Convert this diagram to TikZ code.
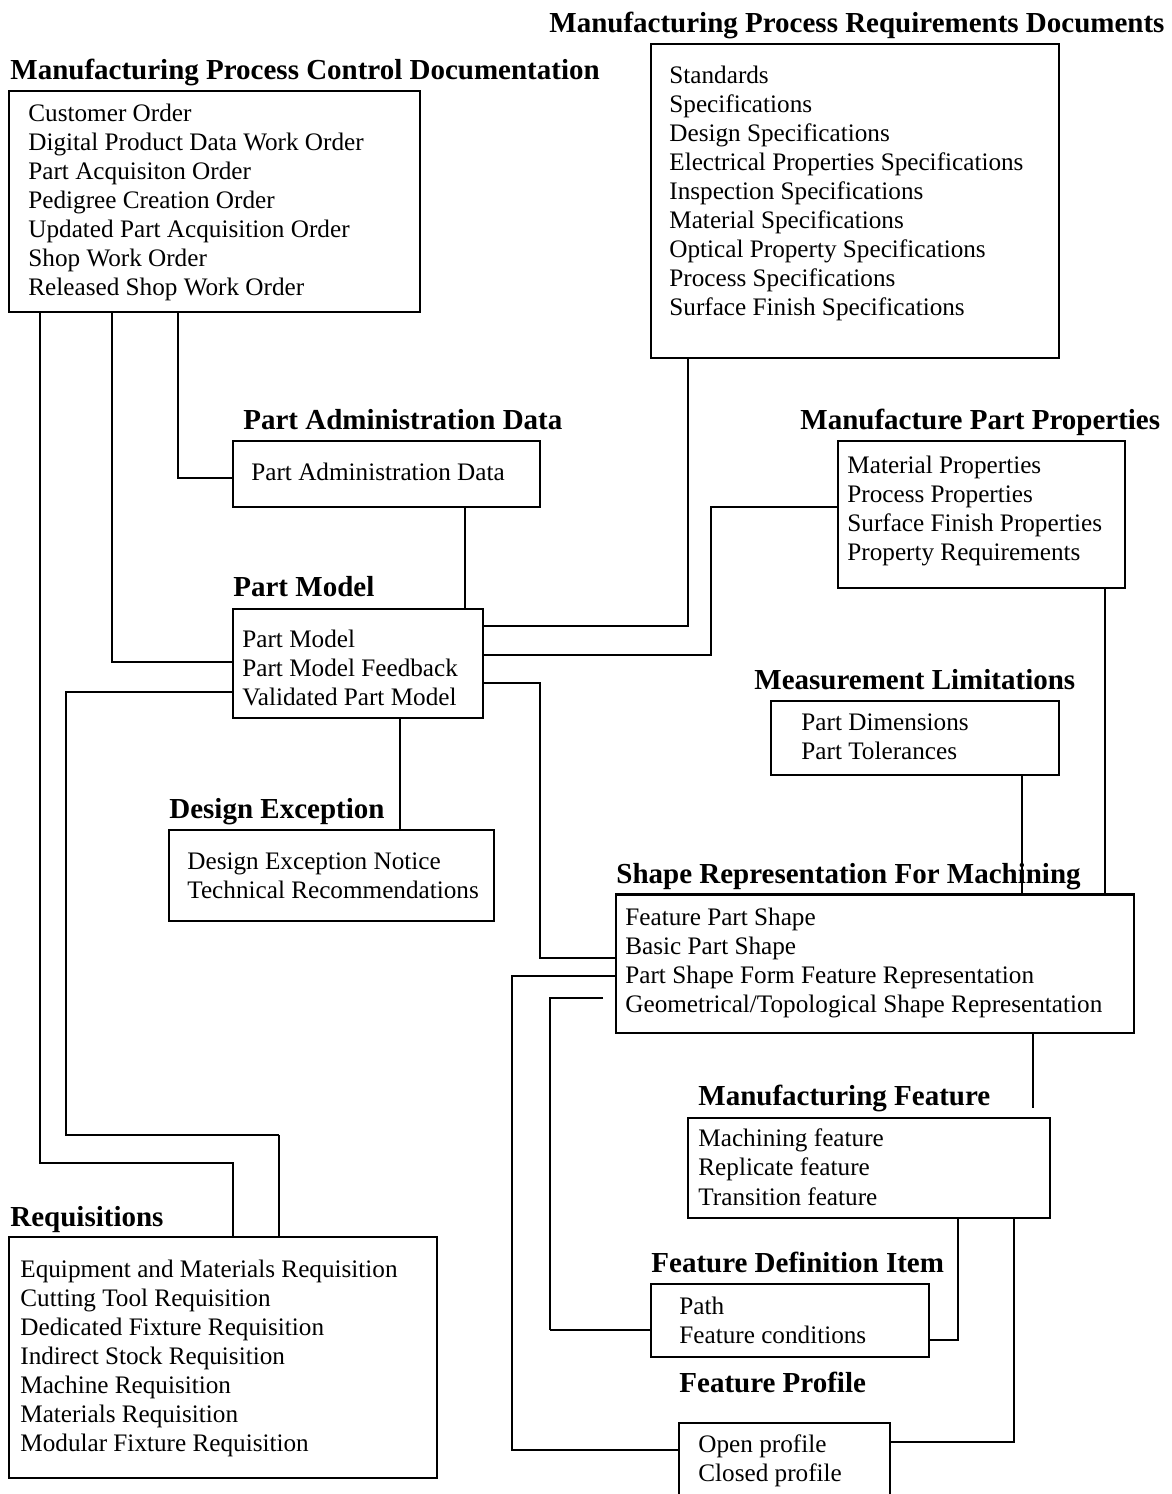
\documentclass[tikz,border=0pt]{standalone}
\usepackage{fontspec}
\setmainfont{Liberation Serif}
\usetikzlibrary{fit}
\begin{document}
\begin{tikzpicture}[x=0.5pt,y=-0.5pt,
  box/.style={draw, inner sep=0pt, line width=0.6pt},
  item/.style={anchor=base west, inner sep=0pt, font=\fontsize{12.6}{15}\selectfont},
  ttl/.style={anchor=base west, inner sep=0pt, font=\fontsize{14.5}{17}\selectfont\bfseries},
  conn/.style={line width=0.6pt},
  heavy/.style={line width=1.2pt}]
\clip (0,0) rectangle (1172,1494);
\fill[white] (0,0) rectangle (1172,1494);

% boxes
\node[box, fit={(9,91) (420,312)}] (mpcd) {};
\node[box, fit={(651,44) (1059,358)}] (mprd) {};
\node[box, fit={(233,441) (540,507)}] (pad) {};
\node[box, fit={(233,609) (483,718)}] (pm) {};
\node[box, fit={(838,441) (1125,588)}] (mpp) {};
\node[box, fit={(771,701) (1059,775)}] (ml) {};
\node[box, fit={(169,830) (494,921)}] (de) {};
\node[box, fit={(616,895) (1134,1033)}] (srm) {};
\node[box, fit={(688,1118) (1050,1218)}] (mf) {};
\node[box, fit={(651,1284) (929,1357)}] (fdi) {};
\node[box, fit={(679,1423) (890,1520)}] (fp) {};
\node[box, fit={(9,1237) (437,1478)}] (req) {};
\draw[heavy] (srm.north west) -- (srm.north east);

% connectors
\draw[conn] (mpcd.south -| 40,0) |- (233,1163) -- (req.north -| 233,0);
\draw[conn] (pm.west |- 0,692) -| (66,1135) -- (279,1135);
\draw[heavy] (279,1135) -- (req.north -| 279,0);
\draw[conn] (mpcd.south -| 112,0) |- (pm.west |- 0,662);
\draw[conn] (mpcd.south -| 178,0) |- (pad.west |- 0,478);
\draw[conn] (pad.south -| 465,0) -- (pm.north -| 465,0);
\draw[conn] (mprd.south -| 688,0) |- (pm.east |- 0,626);
\draw[conn] (mpp.west |- 0,507) -| (711,655) -- (pm.east |- 0,655);
\draw[conn] (pm.east |- 0,683) -| (540,958) -- (srm.west |- 0,958);
\draw[conn] (pm.south -| 400,0) -- (de.north -| 400,0);
\draw[conn] (mpp.south -| 1105,0) -- (srm.north -| 1105,0);
\draw[conn] (ml.south -| 1022,0) -- (srm.north -| 1022,0);
\coordinate (srmend) at (1033,1108);
\draw[conn] (srm.south -| 1033,0) -- (srmend);
\draw[conn] (srm.west |- 0,976) -| (512,1450) -- (fp.west |- 0,1450);
\coordinate (gapstart) at (603,998);
\draw[conn] (gapstart) -| (550,1330);
\draw[heavy] (550,1330) -- (fdi.west |- 0,1330);
\draw[conn] (mf.south -| 958,0) |- (fdi.east |- 0,1340);
\draw[conn] (mf.south -| 1014,0) |- (fp.east |- 0,1442);

% titles
\node[ttl] (t-mprd) at (549,32) {Manufacturing Process Requirements Documents};
\node[ttl] (t-mpcd) at (10,79) {Manufacturing Process Control Documentation};
\node[ttl] (t-pad) at (243,429) {Part Administration Data};
\node[ttl] (t-pm) at (233,596) {Part Model};
\node[ttl] (t-mpp) at (800,429) {Manufacture Part Properties};
\node[ttl] (t-ml) at (754,689) {Measurement Limitations};
\node[ttl] (t-de) at (169,818) {Design Exception};
\node[ttl] (t-srm) at (616,883) {Shape Representation For Machining};
\node[ttl] (t-mf) at (698,1105) {Manufacturing Feature};
\node[ttl] (t-fdi) at (651,1272) {Feature Definition Item};
\node[ttl] (t-fp) at (679,1392) {Feature Profile};
\node[ttl] (t-req) at (10,1226) {Requisitions};

% items
\foreach \t [count=\i from 0] in {Customer Order, Digital Product Data Work Order, Part Acquisiton Order, Pedigree Creation Order, Updated Part Acquisition Order, Shop Work Order, Released Shop Work Order}
  \node[item] (mpcd-\i) at (28,{121+29*\i}) {\t};
\foreach \t [count=\i from 0] in {Standards, Specifications, Design Specifications, Electrical Properties Specifications, Inspection Specifications, Material Specifications, Optical Property Specifications, Process Specifications, Surface Finish Specifications}
  \node[item] (mprd-\i) at (669,{83+29*\i}) {\t};
\node[item] (pad-0) at (251,480) {Part Administration Data};
\foreach \t [count=\i from 0] in {Part Model, Part Model Feedback, Validated Part Model}
  \node[item] (pm-\i) at (242,{647+29*\i}) {\t};
\foreach \t [count=\i from 0] in {Material Properties, Process Properties, Surface Finish Properties, Property Requirements}
  \node[item] (mpp-\i) at (847,{473+29*\i}) {\t};
\foreach \t [count=\i from 0] in {Part Dimensions, Part Tolerances}
  \node[item] (ml-\i) at (801,{730+29*\i}) {\t};
\foreach \t [count=\i from 0] in {Design Exception Notice, Technical Recommendations}
  \node[item] (de-\i) at (187,{869+29*\i}) {\t};
\foreach \t [count=\i from 0] in {Feature Part Shape, Basic Part Shape, Part Shape Form Feature Representation, Geometrical/Topological Shape Representation}
  \node[item] (srm-\i) at (625,{925+29*\i}) {\t};
\foreach \t [count=\i from 0] in {Machining feature, Replicate feature, Transition feature}
  \node[item] (mf-\i) at (698,{1146+29.5*\i}) {\t};
\foreach \t [count=\i from 0] in {Path, Feature conditions}
  \node[item] (fdi-\i) at (679,{1314+29*\i}) {\t};
\foreach \t [count=\i from 0] in {Open profile, Closed profile}
  \node[item] (fp-\i) at (698,{1452+29.5*\i}) {\t};
\foreach \t [count=\i from 0] in {Equipment and Materials Requisition, Cutting Tool Requisition, Dedicated Fixture Requisition, Indirect Stock Requisition, Machine Requisition, Materials Requisition, Modular Fixture Requisition}
  \node[item] (req-\i) at (20,{1277+29*\i}) {\t};
\end{tikzpicture}
\end{document}
